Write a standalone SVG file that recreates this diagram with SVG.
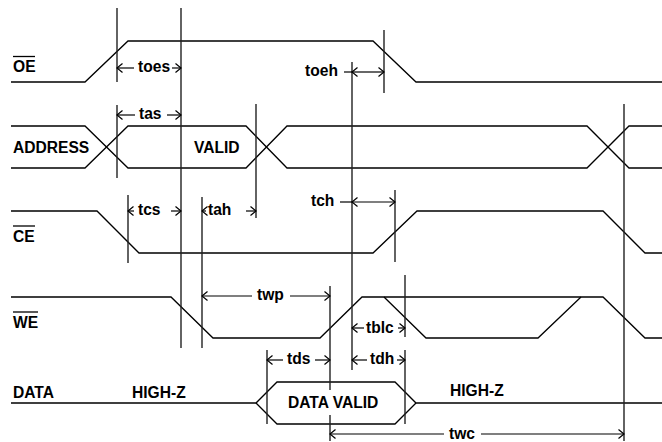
<svg xmlns="http://www.w3.org/2000/svg" width="662" height="442" viewBox="0 0 662 442">
<style>
.sig{fill:none;stroke:#000;stroke-width:1.3;stroke-linejoin:miter}
.guide{fill:none;stroke:#222;stroke-width:1.4}
.dim{fill:none;stroke:#000;stroke-width:1.2}
.ol{stroke:#000;stroke-width:1.3}
text{font-family:"Liberation Sans",Arial,Helvetica,sans-serif;font-weight:bold;font-size:15.6px;fill:#000}
</style>
<defs>
<marker id="ah" viewBox="-7 -6 8 12" markerWidth="8" markerHeight="12" refX="0" refY="0" orient="auto-start-reverse" markerUnits="userSpaceOnUse">
<path d="M-5.5,-4.5 L0,0 L-5.5,4.5" fill="none" stroke="#000" stroke-width="1.2"/>
</marker>
</defs>
<rect width="662" height="442" fill="#fff"/>

<g id="signal-oe">
<path class="sig" d="M11,82 H85 L128,41 H373 L416,82 H662"/>
<text x="13" y="72">OE</text>
<line class="ol" x1="13" y1="56.5" x2="35" y2="56.5"/>
</g>

<g id="signal-address">
<path class="sig" d="M11,126 H85 L128,168 H246 L287,126 H587 L629,168 H662"/>
<path class="sig" d="M11,168 H85 L128,126 H246 L287,168 H587 L629,126 H662"/>
<text x="13" y="153">ADDRESS</text>
<text x="194" y="153">VALID</text>
</g>

<g id="signal-ce">
<path class="sig" d="M11,211 H97 L139,253 H373 L417,211 H603 L645,253 H662"/>
<text x="13" y="242">CE</text>
<line class="ol" x1="13" y1="226" x2="35" y2="226"/>
</g>

<g id="signal-we">
<path class="sig" d="M11,297 H171 L213,338 H320 L362,297 H603 L645,338 H662"/>
<path class="sig" d="M384,297 L426,338 H538 L581,297"/>
<text x="13" y="328">WE</text>
<line class="ol" x1="13" y1="312" x2="38" y2="312"/>
</g>

<g id="signal-data">
<path class="sig" d="M11,403 H256 L277,382 H395 L416,403 H662"/>
<path class="sig" d="M256,403 L277,424 H395 L416,403"/>
<text x="13" y="398">DATA</text>
<text x="132" y="398">HIGH-Z</text>
<text x="288" y="408">DATA VALID</text>
<text x="450" y="396">HIGH-Z</text>
</g>

<g id="connectors">
<g id="guides">
<line class="guide" x1="117" y1="8" x2="117" y2="82"/>
<line class="guide" x1="117" y1="105" x2="117" y2="178"/>
<line class="guide" x1="181" y1="8" x2="181" y2="348"/>
<line class="guide" x1="384" y1="30" x2="384" y2="93"/>
<line class="guide" x1="352" y1="62" x2="352" y2="370"/>
<line class="guide" x1="256" y1="104" x2="256" y2="218"/>
<line class="guide" x1="624" y1="104" x2="624" y2="441"/>
<line class="guide" x1="128" y1="195" x2="128" y2="263"/>
<line class="guide" x1="202" y1="197" x2="202" y2="348"/>
<line class="guide" x1="395" y1="190" x2="395" y2="262"/>
<line class="guide" x1="330" y1="286" x2="330" y2="390"/>
<line class="guide" x1="330" y1="415" x2="330" y2="441"/>
<line class="guide" x1="405" y1="275" x2="405" y2="337"/>
<line class="guide" x1="405" y1="350" x2="405" y2="424"/>
<line class="guide" x1="267" y1="350" x2="267" y2="424"/>
</g>
<g id="dimensions">
<line class="dim" x1="117" y1="68" x2="134" y2="68" marker-start="url(#ah)"/>
<line class="dim" x1="172" y1="68" x2="181" y2="68" marker-end="url(#ah)"/>
<line class="dim" x1="117" y1="115" x2="135" y2="115" marker-start="url(#ah)"/>
<line class="dim" x1="167" y1="115" x2="181" y2="115" marker-end="url(#ah)"/>
<line class="dim" x1="344" y1="72" x2="352" y2="72"/>
<line class="dim" x1="352" y1="72" x2="384" y2="72" marker-start="url(#ah)" marker-end="url(#ah)"/>
<line class="dim" x1="128" y1="211" x2="134" y2="211" marker-start="url(#ah)"/>
<line class="dim" x1="171" y1="211" x2="181" y2="211" marker-end="url(#ah)"/>
<line class="dim" x1="202" y1="211" x2="206" y2="211" marker-start="url(#ah)"/>
<line class="dim" x1="246" y1="211" x2="256" y2="211" marker-end="url(#ah)"/>
<line class="dim" x1="340" y1="202" x2="352" y2="202"/>
<line class="dim" x1="352" y1="202" x2="395" y2="202" marker-start="url(#ah)" marker-end="url(#ah)"/>
<line class="dim" x1="202" y1="296" x2="252" y2="296" marker-start="url(#ah)"/>
<line class="dim" x1="290" y1="296" x2="330" y2="296" marker-end="url(#ah)"/>
<line class="dim" x1="352" y1="328" x2="364" y2="328" marker-start="url(#ah)"/>
<line class="dim" x1="398" y1="328" x2="405" y2="328" marker-end="url(#ah)"/>
<line class="dim" x1="267" y1="360" x2="283" y2="360" marker-start="url(#ah)"/>
<line class="dim" x1="315" y1="360" x2="330" y2="360" marker-end="url(#ah)"/>
<line class="dim" x1="352" y1="360" x2="367" y2="360" marker-start="url(#ah)"/>
<line class="dim" x1="397" y1="360" x2="405" y2="360" marker-end="url(#ah)"/>
<line class="dim" x1="330" y1="434" x2="444" y2="434" marker-start="url(#ah)"/>
<line class="dim" x1="481" y1="434" x2="624" y2="434" marker-end="url(#ah)"/>
</g>
<g id="dimension-labels">
<text x="138" y="72">toes</text>
<text x="139" y="119">tas</text>
<text x="305" y="76">toeh</text>
<text x="138" y="215">tcs</text>
<text x="208" y="215">tah</text>
<text x="311" y="206">tch</text>
<text x="257" y="300">twp</text>
<text x="366" y="333">tblc</text>
<text x="287" y="364">tds</text>
<text x="370" y="364">tdh</text>
<text x="449" y="439">twc</text>
</g>
</g>
</svg>
